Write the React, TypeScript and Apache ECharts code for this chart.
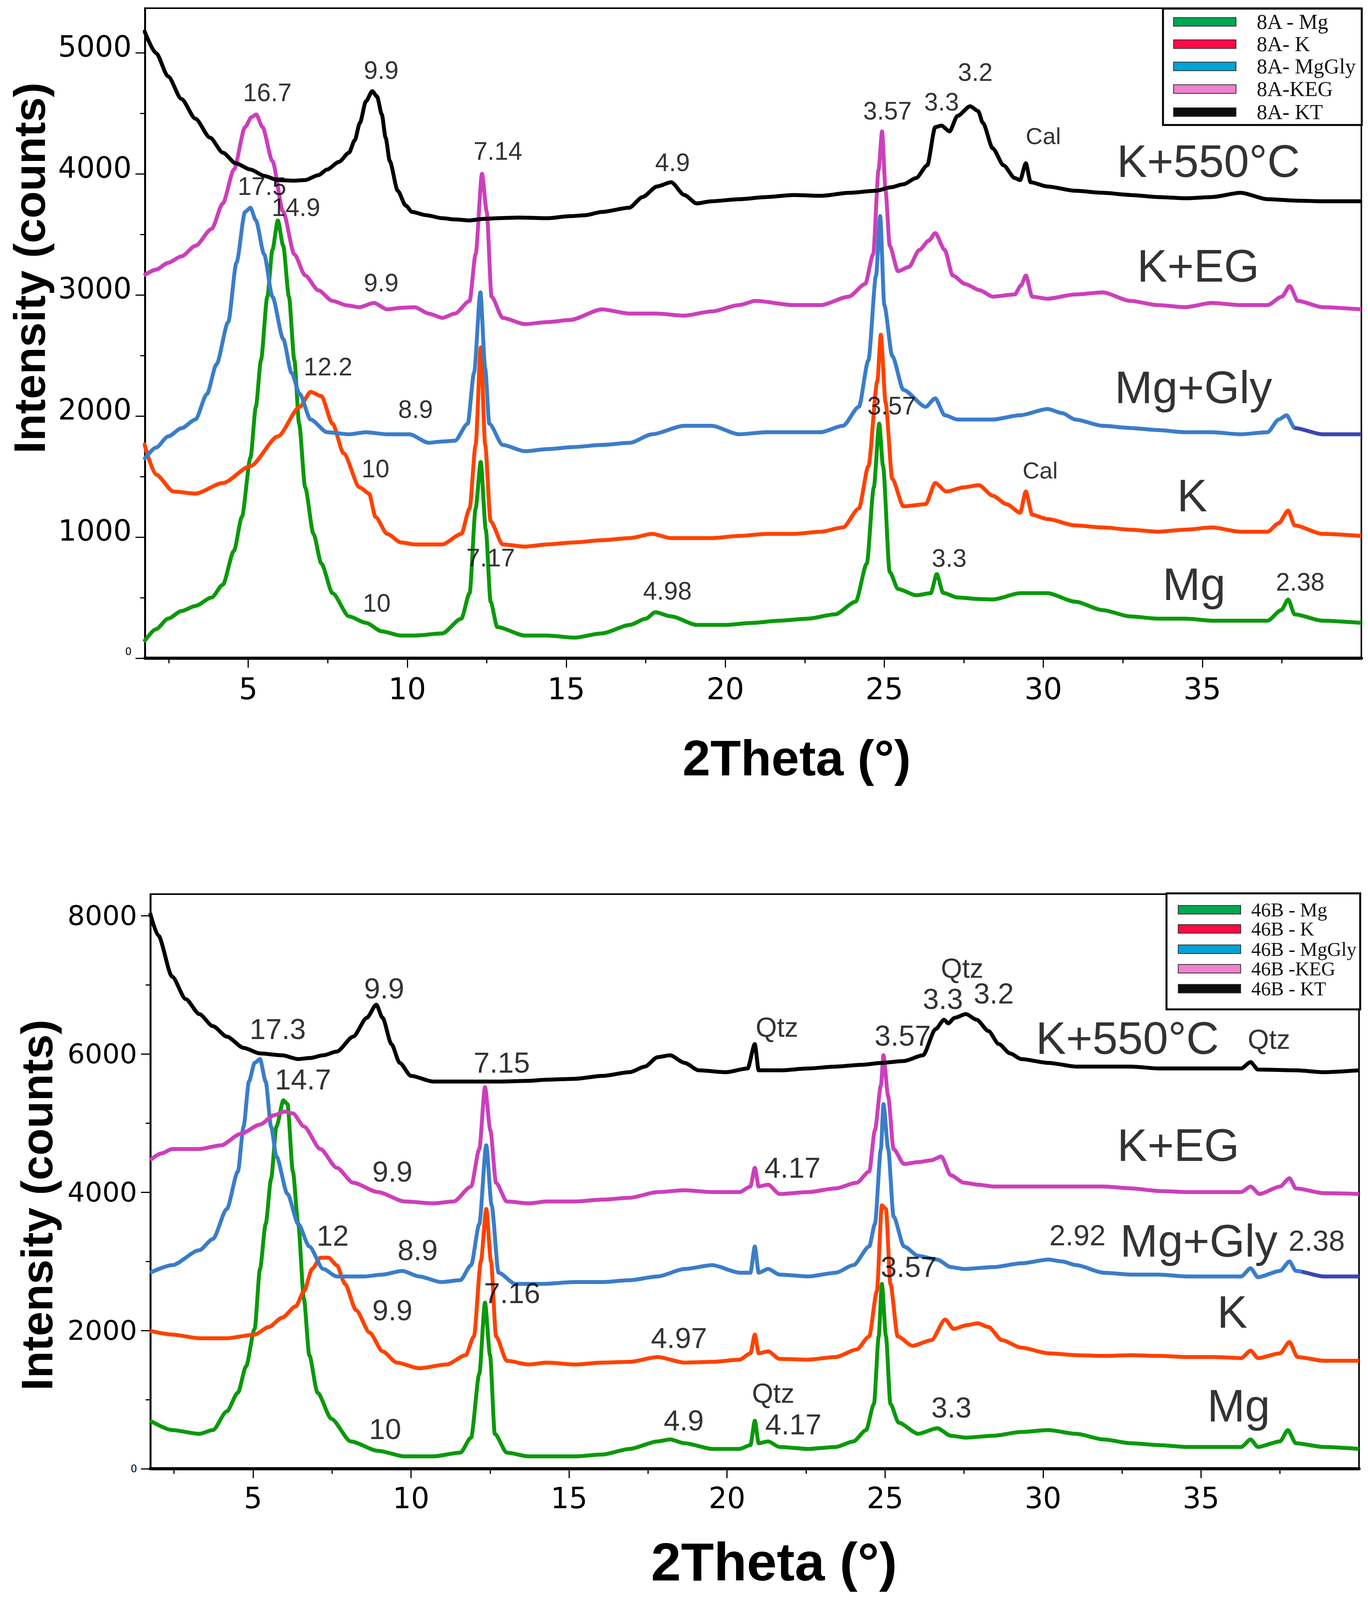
import React, { useEffect, useRef } from "react";
import * as echarts from "echarts";

// ---------- axis ticks ----------
const xMajorTicks = [5, 10, 15, 20, 25, 30, 35];
const xMinorTicks = [2.5, 7.5, 12.5, 17.5, 22.5, 27.5, 32.5, 37.5];
const topYMajor = [0, 1000, 2000, 3000, 4000, 5000];
const topYMinor = [500, 1500, 2500, 3500, 4500];
const botYMajor = [0, 2000, 4000, 6000, 8000];
const botYMinor = [1000, 3000, 5000, 7000];

// ---------- legends ----------
const topLegendNames = ["8A - Mg", "8A- K", "8A- MgGly", "8A-KEG", "8A- KT"];
const botLegendNames = ["46B - Mg", "46B - K", "46B - MgGly", "46B -KEG", "46B - KT"];
const lineColors = ["#0A990A", "#FF4200", "#3A7DC9", "#CC3FBB", "#000000"];
const legendColors = ["#00A651", "#FF0A45", "#00A3D6", "#EE82CC", "#0D0D0D"];

// ---------- top panel (8A) ----------
const top_Mg = [[1.72,135],[2.1,240],[2.48,327],[2.9,390],[3.34,432],[3.85,502],[4.2,607],[4.55,887],[4.8,1167],[5.07,1657],[5.24,2077],[5.4,2462],[5.6,2987],[5.76,3372],[5.93,3617],[6.1,3407],[6.28,2987],[6.45,2462],[6.6,1937],[6.79,1412],[7.05,1027],[7.3,782],[7.65,537],[8.17,345],[8.7,292],[9.2,222],[9.8,187],[10.24,187],[11.1,205],[11.7,327],[11.96,537],[12.15,1237],[12.31,1622],[12.47,1062],[12.62,467],[12.83,257],[13.7,187],[14.4,187],[15.26,170],[16.12,205],[17.0,275],[17.5,327],[17.8,380],[18.3,345],[19.1,275],[20.0,275],[20.85,292],[21.7,310],[22.6,327],[23.45,362],[24.1,467],[24.45,782],[24.67,1412],[24.84,1937],[24.96,1587],[25.17,712],[25.43,572],[26.0,520],[26.46,537],[26.65,695],[26.85,540],[27.3,502],[27.9,490],[28.41,485],[29.27,537],[30.13,537],[31.0,467],[31.87,397],[32.73,345],[33.6,327],[34.46,327],[35.3,310],[36.2,310],[37.05,310],[37.48,397],[37.7,485],[37.9,362],[38.78,310],[40,292]];
const top_K = [[1.72,1780],[2.1,1517],[2.65,1377],[3.34,1360],[4.2,1447],[5.07,1587],[5.93,1832],[6.62,2077],[6.96,2200],[7.3,2165],[7.65,1937],[8.0,1692],[8.5,1412],[8.8,1360],[9.0,1167],[9.37,1027],[9.8,957],[10.24,940],[11.1,940],[11.7,1027],[11.96,1237],[12.15,1762],[12.31,2567],[12.45,1762],[12.62,1132],[13.0,940],[13.7,922],[14.4,940],[15.26,957],[16.12,975],[17.0,992],[17.7,1027],[18.3,992],[19.57,992],[20.43,1010],[21.3,1027],[22.15,1027],[23.0,1045],[23.7,1080],[24.2,1237],[24.5,1587],[24.78,2287],[24.89,2672],[25.04,2112],[25.25,1482],[25.6,1255],[26.3,1272],[26.6,1447],[26.95,1377],[27.5,1412],[27.97,1430],[28.41,1342],[28.85,1272],[29.27,1202],[29.45,1377],[29.65,1185],[30.13,1150],[31.0,1097],[31.87,1080],[32.73,1062],[33.6,1045],[34.46,1062],[35.3,1080],[36.2,1045],[37.05,1045],[37.4,1115],[37.7,1220],[37.9,1097],[38.78,1027],[40,1010]];
const top_MgGly = [[1.72,1640],[2.1,1740],[2.48,1832],[2.9,1900],[3.34,1972],[3.7,2182],[4.0,2427],[4.37,2777],[4.63,3267],[4.9,3687],[5.07,3722],[5.24,3617],[5.5,3337],[5.76,2987],[6.1,2637],[6.36,2357],[6.62,2182],[6.96,1972],[7.48,1867],[8.17,1850],[8.7,1867],[9.37,1850],[10.07,1850],[10.67,1780],[11.1,1790],[11.5,1797],[11.9,1937],[12.1,2357],[12.3,3022],[12.45,2392],[12.58,1937],[13.0,1762],[13.7,1710],[14.4,1727],[15.26,1745],[16.12,1762],[17.0,1780],[17.7,1850],[18.7,1920],[19.57,1920],[20.43,1850],[21.3,1867],[22.15,1867],[23.0,1867],[23.7,1920],[24.2,2077],[24.5,2462],[24.74,3162],[24.87,3652],[25.0,2917],[25.25,2497],[25.6,2217],[26.3,2077],[26.6,2147],[26.9,2007],[27.3,1972],[28.41,1972],[29.27,2007],[30.13,2059],[30.6,2024],[31.0,1972],[31.87,1920],[32.73,1902],[33.6,1885],[34.46,1867],[35.3,1867],[36.2,1850],[37.05,1867],[37.4,1972],[37.65,2007],[37.9,1902],[38.78,1850],[40,1850]];
const top_KEG = [[1.72,3162],[2.1,3210],[2.48,3267],[2.9,3320],[3.34,3407],[3.85,3547],[4.2,3757],[4.55,4037],[4.9,4387],[5.1,4470],[5.25,4492],[5.45,4387],[5.76,4107],[6.1,3687],[6.45,3337],[6.79,3162],[7.2,3040],[7.65,2952],[8.1,2915],[8.5,2900],[8.95,2935],[9.37,2882],[9.8,2895],[10.24,2900],[10.67,2847],[11.1,2812],[11.5,2847],[11.96,2952],[12.15,3337],[12.35,4002],[12.5,3687],[12.65,2987],[13.0,2812],[13.7,2760],[14.4,2777],[15.13,2795],[16.12,2882],[17.0,2847],[17.85,2847],[18.7,2830],[19.57,2865],[20.43,2917],[20.95,2952],[22.15,2917],[23.0,2917],[23.88,2987],[24.4,3092],[24.65,3337],[24.82,4037],[24.93,4352],[25.04,3862],[25.17,3407],[25.43,3197],[25.77,3232],[26.1,3372],[26.4,3450],[26.6,3512],[26.9,3372],[27.15,3162],[27.54,3092],[28.0,3040],[28.41,2987],[29.1,3005],[29.3,3080],[29.45,3162],[29.65,2987],[30.13,2970],[31.0,3005],[31.87,3022],[32.73,2952],[33.6,2917],[34.46,2900],[35.3,2935],[36.2,2917],[37.05,2917],[37.5,2987],[37.75,3075],[38.0,2952],[38.78,2900],[40,2882]];
const top_KT = [[1.72,5192],[2.1,5000],[2.48,4807],[2.9,4620],[3.34,4457],[3.8,4300],[4.2,4177],[4.6,4090],[5.07,4037],[5.5,3985],[5.93,3950],[6.4,3945],[6.79,3950],[7.2,3990],[7.48,4037],[7.85,4100],[8.17,4177],[8.35,4280],[8.51,4422],[8.7,4600],[8.9,4685],[9.05,4640],[9.2,4492],[9.32,4300],[9.45,4107],[9.7,3862],[9.95,3740],[10.15,3687],[10.6,3660],[11.1,3635],[11.5,3625],[11.96,3617],[12.4,3630],[12.83,3635],[13.5,3640],[14.4,3635],[15.13,3652],[15.6,3660],[16.12,3687],[16.98,3722],[17.4,3810],[17.85,3897],[18.3,3932],[18.71,3827],[19.1,3757],[19.57,3775],[20.43,3792],[21.29,3810],[22.15,3827],[23.0,3820],[23.9,3845],[24.74,3862],[25.2,3890],[25.6,3915],[26.0,3967],[26.35,4072],[26.6,4387],[26.8,4400],[27.05,4352],[27.3,4480],[27.7,4560],[27.95,4520],[28.1,4422],[28.41,4212],[28.75,4072],[29.1,3967],[29.27,3950],[29.45,4089],[29.6,3932],[30.13,3897],[31.0,3862],[31.87,3845],[32.73,3827],[33.6,3810],[34.5,3800],[35.3,3810],[36.2,3845],[37.05,3792],[38.0,3780],[38.78,3775],[40,3775]];

const topNoteText = ["16.7","9.9","7.14","4.9","3.57","3.3","3.2","Cal","K+550°C","17.5","14.9","9.9","K+EG","12.2","8.9","Mg+Gly","10","3.57","Cal","K","7.17","3.3","4.98","10","Mg","2.38"];
const topNoteX = [5.6,9.18,12.85,18.34,25.1,26.8,27.86,30.0,35.19,5.43,6.5,9.18,34.87,7.51,10.26,34.72,9.0,25.23,29.9,34.68,12.62,27.04,18.18,9.04,34.74,38.08];
const topNoteY = [4674,4856,4190,4096,4522,4597,4842,4312,4105,3897,3725,3100,3239,2408,2056,2236,1565,2086,1552,1342,830,826,555,455,610,628];

// ---------- bottom panel (46B) ----------
const bot_Mg = [[1.74,695],[2.44,559],[3.3,505],[3.73,559],[4.17,830],[4.52,1101],[4.78,1481],[5.05,2023],[5.22,2889],[5.4,3540],[5.57,4190],[5.74,4949],[5.96,5328],[6.09,5274],[6.26,4299],[6.43,3540],[6.61,2456],[6.78,1643],[7.04,1101],[7.48,722],[8.09,396],[8.95,260],[9.8,179],[10.7,179],[11.56,233],[11.9,450],[12.16,1372],[12.34,2402],[12.5,1643],[12.65,505],[13.03,233],[13.73,179],[14.3,179],[15.19,179],[16.05,206],[16.92,287],[17.8,396],[18.2,423],[18.66,369],[19.53,287],[20.4,287],[20.74,342],[20.88,695],[21.0,369],[21.3,396],[21.66,315],[22.57,287],[23.44,315],[24.0,396],[24.4,559],[24.65,938],[24.8,1914],[24.9,2673],[25.03,1914],[25.17,938],[25.43,667],[26.05,505],[26.65,586],[27.08,478],[27.56,450],[28.44,478],[29.31,532],[30.17,559],[31.05,505],[31.92,423],[32.78,369],[33.66,342],[34.53,315],[35.4,315],[36.27,315],[36.57,423],[36.8,315],[37.5,396],[37.75,559],[38.0,369],[38.89,315],[40,287]];
const bot_K = [[1.74,1995],[2.44,1941],[3.3,1887],[4.17,1887],[5.05,1941],[5.5,2050],[5.92,2185],[6.35,2348],[6.61,2565],[6.87,2889],[7.13,3052],[7.39,3052],[7.65,2944],[7.91,2673],[8.26,2294],[8.69,1968],[9.1,1697],[9.55,1535],[10.26,1453],[11.13,1508],[11.73,1643],[11.99,1914],[12.21,2998],[12.38,3757],[12.53,2998],[12.69,1914],[13.03,1562],[13.73,1508],[14.3,1535],[15.19,1508],[16.05,1535],[16.92,1546],[17.8,1616],[18.66,1535],[19.53,1546],[20.4,1578],[20.74,1670],[20.88,1941],[21.0,1670],[21.3,1697],[21.66,1589],[22.57,1578],[23.44,1616],[24.1,1724],[24.5,1914],[24.74,2565],[24.9,3811],[25.03,3757],[25.17,2673],[25.4,1914],[25.87,1778],[26.47,1860],[26.9,2158],[27.17,2023],[27.6,2077],[27.93,2104],[28.27,2050],[28.7,1860],[29.31,1751],[30.17,1670],[31.05,1643],[31.92,1632],[32.78,1643],[33.66,1632],[34.53,1616],[35.4,1616],[36.27,1600],[36.57,1708],[36.8,1600],[37.5,1670],[37.8,1833],[38.05,1616],[38.89,1562],[40,1562]];
const bot_MgGly = [[1.74,2835],[2.44,2944],[3.3,3161],[3.73,3323],[4.17,3757],[4.52,4299],[4.7,4949],[4.87,5600],[5.05,5870],[5.22,5925],[5.4,5600],[5.57,4949],[5.74,4516],[6.09,3974],[6.43,3540],[6.78,3215],[7.22,2889],[7.65,2781],[8.52,2781],[9.1,2808],[9.72,2862],[10.26,2781],[10.95,2700],[11.56,2727],[11.9,2944],[12.16,3540],[12.38,4678],[12.55,3811],[12.77,2835],[13.3,2673],[14.16,2673],[15.19,2700],[16.05,2700],[16.92,2727],[17.8,2781],[18.66,2889],[19.53,2944],[20.4,2835],[20.74,2835],[20.88,3215],[21.0,2835],[21.3,2889],[21.66,2808],[22.57,2781],[23.44,2835],[24.0,2944],[24.5,3215],[24.68,3540],[24.87,4624],[24.95,5274],[25.1,4624],[25.27,3648],[25.6,3215],[26.05,3079],[26.65,3025],[27.08,2917],[27.5,2889],[28.44,2917],[29.31,2971],[30.17,3025],[30.6,2998],[31.05,2944],[31.92,2835],[32.78,2808],[33.66,2808],[34.53,2781],[35.4,2781],[36.27,2781],[36.57,2900],[36.8,2770],[37.5,2862],[37.8,2998],[38.0,2862],[38.89,2781],[40,2781]];
const bot_KEG = [[1.74,4462],[2.1,4560],[2.44,4624],[3.3,4624],[3.99,4678],[4.6,4841],[5.22,4977],[5.66,5112],[6.0,5166],[6.26,5139],[6.61,4950],[7.13,4624],[7.65,4353],[8.17,4136],[8.95,4001],[9.8,3865],[10.7,3838],[11.35,3865],[11.9,4082],[12.16,4624],[12.34,5518],[12.51,4895],[12.69,4136],[13.03,3865],[13.73,3838],[14.3,3865],[15.19,3865],[16.05,3892],[16.92,3919],[17.8,4001],[18.66,4028],[19.53,4001],[20.4,4001],[20.74,4082],[20.88,4353],[21.0,4082],[21.3,4109],[21.66,3974],[22.57,4001],[23.44,4055],[24.1,4136],[24.5,4299],[24.68,4895],[24.87,5545],[24.95,5979],[25.1,5383],[25.27,4624],[25.6,4407],[26.05,4434],[26.47,4462],[26.78,4516],[27.08,4245],[27.5,4136],[27.93,4109],[28.44,4082],[29.31,4082],[30.17,4082],[31.05,4082],[31.92,4082],[32.78,4055],[33.66,4017],[34.53,4001],[35.4,4001],[36.27,4001],[36.57,4082],[36.85,3974],[37.5,4082],[37.8,4201],[38.0,4055],[38.89,3985],[40,3974]];
const bot_KT = [[1.74,8039],[2.0,7713],[2.44,7117],[2.87,6792],[3.3,6575],[3.73,6400],[4.17,6250],[4.7,6087],[5.22,6006],[5.92,5979],[6.43,5925],[6.8,5940],[7.22,5979],[7.65,6033],[8.17,6250],[8.6,6521],[8.9,6711],[9.1,6521],[9.38,6142],[9.64,5870],[10.0,5681],[10.7,5600],[11.5,5600],[12.0,5600],[12.86,5600],[13.7,5610],[14.3,5627],[15.19,5640],[16.05,5681],[16.92,5735],[17.4,5816],[17.8,5952],[18.2,5979],[18.66,5870],[19.1,5762],[19.96,5735],[20.65,5789],[20.88,6142],[21.0,5762],[21.7,5762],[22.57,5789],[23.44,5816],[24.3,5843],[24.9,5870],[25.6,5897],[26.2,5979],[26.6,6358],[26.87,6494],[27.0,6440],[27.2,6521],[27.56,6575],[27.9,6494],[28.27,6331],[28.6,6142],[28.96,6006],[29.31,5925],[30.17,5870],[31.05,5816],[31.92,5816],[32.78,5816],[33.66,5789],[34.53,5789],[35.4,5789],[36.27,5789],[36.57,5881],[36.8,5773],[38.0,5762],[38.89,5735],[40,5762]];

const botNoteText = ["9.9","17.3","Qtz","3.57","Qtz","3.3","3.2","K+550°C","Qtz","7.15","14.7","K+EG","9.9","4.17","12","8.9","2.92","Mg+Gly","2.38","3.57","7.16","9.9","K","4.97","Mg","4.9","Qtz","4.17","3.3","10"];
const botNoteX = [9.15,5.78,21.58,25.56,27.44,26.83,28.44,32.67,37.15,12.87,6.58,34.28,9.41,22.07,7.52,10.21,31.09,34.93,38.66,25.75,13.2,9.41,35.99,18.48,36.19,18.63,21.46,22.1,27.1,9.18];
const botNoteY = [6944,6358,6385,6261,7236,6792,6873,6223,6207,5871,5627,4678,4299,4353,3367,3160,3377,3296,3296,2917,2537,2293,2266,1887,911,695,1090,640,884,575];

const bigLabels = ["K+550°C", "K+EG", "Mg+Gly", "K", "Mg"];

const SANS = '"Liberation Sans", Arial, sans-serif';
const TICKFONT = '"DejaVu Sans", sans-serif';
const SERIF = '"Liberation Serif", "Times New Roman", serif';

function notes(text: string[], xs: number[], ys: number[], small: number) {
  return text.map((t, i) => ({
    name: t,
    value: [xs[i], ys[i]],
    label: { fontSize: bigLabels.includes(t) ? 116 : t === "Qtz" || t === "Cal" ? small - 4 : small },
  }));
}

function legendGraphic(names: string[], box: number[], swX: number, txtX: number, rows: number[], fs: number) {
  const els: any[] = [
    { type: "rect", z: 100, shape: { x: box[0], y: box[1], width: box[2], height: box[3] }, style: { fill: "#fff", stroke: "#000", lineWidth: 5 } },
  ];
  names.forEach((n, i) => {
    els.push({ type: "rect", z: 101, shape: { x: swX, y: rows[i] - 11, width: 160, height: 22 }, style: { fill: legendColors[i], stroke: "#333", lineWidth: 2 } });
    els.push({ type: "text", z: 101, x: txtX, y: rows[i], style: { text: n, fontSize: fs, fontFamily: SERIF, fill: "#111", align: "left", verticalAlign: "middle" } });
  });
  return els;
}

export default function App() {
  const ref = useRef<HTMLDivElement>(null);
  useEffect(() => {
    if (!ref.current) return;
    const chart = echarts.init(ref.current, undefined, { renderer: "svg" });

    const mainX = (gridIndex: number, fs: number, margin: number) => ({
      type: "value", gridIndex, min: 1.75, max: 40, position: "bottom",
      axisLine: { show: true, onZero: false, lineStyle: { color: "#000", width: 8 } },
      axisTick: { show: true, customValues: xMajorTicks, length: 24, lineStyle: { color: "#000", width: 3 } },
      axisLabel: { customValues: xMajorTicks, fontSize: fs, fontFamily: TICKFONT, color: "#000", margin },
      splitLine: { show: false },
    });
    const minorX = (gridIndex: number) => ({
      type: "value", gridIndex, min: 1.75, max: 40, position: "bottom",
      axisLine: { show: false },
      axisTick: { show: true, customValues: xMinorTicks, length: 13, lineStyle: { color: "#000", width: 3 } },
      axisLabel: { show: false }, splitLine: { show: false },
    });
    const mainY = (gridIndex: number, max: number, ticks: number[], fs: number, pad: number[]) => ({
      type: "value", gridIndex, min: 0, max, position: "left",
      axisLine: { show: true, onZero: false, lineStyle: { color: "#000", width: 5 } },
      axisTick: { show: true, customValues: ticks, length: 24, lineStyle: { color: "#000", width: 3 } },
      axisLabel: {
        customValues: ticks, fontSize: fs, fontFamily: TICKFONT, color: "#000", margin: 34, padding: pad,
        formatter: (v: number) => (v === 0 ? "{s|0}" : String(v)),
        rich: { s: { fontSize: 26, fontFamily: TICKFONT, color: "#000" } },
      },
      splitLine: { show: false },
    });
    const minorY = (gridIndex: number, max: number, ticks: number[]) => ({
      type: "value", gridIndex, min: 0, max, position: "left",
      axisLine: { show: false },
      axisTick: { show: true, customValues: ticks, length: 12, lineStyle: { color: "#000", width: 3 } },
      axisLabel: { show: false }, splitLine: { show: false },
    });

    const lineSeries = (names: string[], datas: number[][][], xi: number, yi: number) =>
      datas.map((d, i) => ({
        type: "line", name: names[i], xAxisIndex: xi, yAxisIndex: yi, data: d,
        showSymbol: false, symbol: "none", z: 2 + i,
        smooth: 0.25, smoothMonotone: "x",
        color: lineColors[i],
        lineStyle: i === 2 ? { width: 10 } : { width: 10, color: lineColors[i] },
      }));

    const noteSeries = (data: any[], xi: number, yi: number) => ({
      type: "scatter", name: "notes", xAxisIndex: xi, yAxisIndex: yi, data, symbolSize: 1, silent: true, z: 20,
      itemStyle: { color: "rgba(0,0,0,0)" },
      label: { show: true, position: "inside", formatter: "{b}", color: "#000", fontFamily: SANS },
    });

    const topSeries = lineSeries(topLegendNames, [top_Mg, top_K, top_MgGly, top_KEG, top_KT], 0, 0);
    const botSeries = lineSeries(botLegendNames, [bot_Mg, bot_K, bot_MgGly, bot_KEG, bot_KT], 2, 2);

    const option: any = {
      animation: false,
      backgroundColor: "#fff",
      grid: [
        { left: 371, top: 21, right: 17, bottom: 4113 - 1685, show: true, borderColor: "#000", borderWidth: 4, backgroundColor: "transparent" },
        { left: 385, top: 2289, right: 23, bottom: 4113 - 3760, show: true, borderColor: "#000", borderWidth: 4, backgroundColor: "transparent" },
      ],
      xAxis: [mainX(0, 76, 40), minorX(0), mainX(1, 74, 38), minorX(1)],
      yAxis: [
        mainY(0, 5370, topYMajor, 74, [0, 0, 34, 0]), minorY(0, 5370, topYMinor),
        mainY(1, 8310, botYMajor, 70, [0, 0, 0, 0]), minorY(1, 8310, botYMinor),
      ],
      visualMap: [
        { type: "piecewise", show: false, dimension: 0, seriesIndex: 2, pieces: [{ gte: 0, lt: 37.9, color: lineColors[2] }, { gte: 37.9, lte: 45, color: "#3A46B2" }] },
        { type: "piecewise", show: false, dimension: 0, seriesIndex: 8, pieces: [{ gte: 0, lt: 38.2, color: lineColors[2] }, { gte: 38.2, lte: 45, color: "#3A46B2" }] },
      ],
      series: [
        ...topSeries,
        noteSeries(notes(topNoteText, topNoteX, topNoteY, 64), 0, 0),
        ...botSeries,
        noteSeries(notes(botNoteText, botNoteX, botNoteY, 74), 2, 2),
      ],
      graphic: [
        { type: "text", z: 50, x: 75, y: 686, rotation: Math.PI / 2, style: { text: "Intensity (counts)", fontSize: 114, fontWeight: "bold", fontFamily: SANS, fill: "#000", align: "center", verticalAlign: "middle" } },
        { type: "text", z: 50, x: 94, y: 3085, rotation: Math.PI / 2, style: { text: "Intensity (counts)", fontSize: 114, fontWeight: "bold", fontFamily: SANS, fill: "#000", align: "center", verticalAlign: "middle" } },
        { type: "text", z: 50, x: 2040, y: 1940, style: { text: "2Theta (°)", fontSize: 128, fontWeight: "bold", fontFamily: SANS, fill: "#000", align: "center", verticalAlign: "middle" } },
        { type: "text", z: 50, x: 1982, y: 3998, style: { text: "2Theta (°)", fontSize: 138, fontWeight: "bold", fontFamily: SANS, fill: "#000", align: "center", verticalAlign: "middle" } },
        ...legendGraphic(topLegendNames, [2978, 22, 509, 298], 3005, 3218, [56, 113, 170, 228, 287], 54),
        ...legendGraphic(botLegendNames, [2987, 2287, 496, 297], 3017, 3204, [2329, 2378, 2430, 2480, 2531], 50),
      ],
    };
    chart.setOption(option);
    return () => chart.dispose();
  }, []);
  return <div ref={ref} style={{ position: "absolute", left: 0, top: 0, width: 3503, height: 4113, background: "#fff" }} />;
}
